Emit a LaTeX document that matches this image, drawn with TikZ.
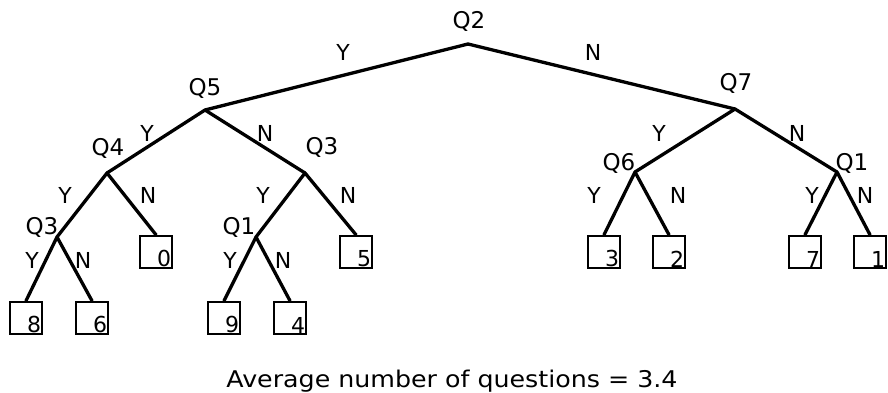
\documentclass[tikz,border=0pt]{standalone}
\usepackage{fontspec}
\setmainfont{DejaVu Sans}
\newfontfamily\capfont[FakeStretch=1.1]{DejaVu Sans}

\begin{document}
\begin{tikzpicture}[
  x=1pt, y=-1pt,
  edge/.style={line width=3.3pt, line cap=round, line join=round},
  leaf/.style={draw, line width=2.4pt, minimum size=32pt, inner sep=0pt,
    label={[anchor=south east, inner sep=2pt, font=\fontsize{22}{24}\selectfont]south east:#1}},
  qlab/.style={inner sep=0pt, font=\fontsize{23}{25}\selectfont},
  yn/.style={inner sep=0pt, font=\fontsize{22}{24}\selectfont}
]
\useasboundingbox (0,0) rectangle (888,392);

% branching points
\coordinate (q2) at (468,44);
\coordinate (q5) at (205,110);
\coordinate (q7) at (735,109);
\coordinate (q4) at (107,173);
\coordinate (q3n) at (305,173);
\coordinate (q6) at (635,172);
\coordinate (q1n) at (837,172);
\coordinate (q3y) at (57,237);
\coordinate (q1y) at (256,237);

% answers
\node[leaf=8] (a8) at (26,318) {};
\node[leaf=6] (a6) at (92,318) {};
\node[leaf=0] (a0) at (156,252) {};
\node[leaf=9] (a9) at (224,318) {};
\node[leaf=4] (a4) at (290,318) {};
\node[leaf=5] (a5) at (356,252) {};
\node[leaf=3] (a3) at (604,252) {};
\node[leaf=2] (a2) at (669,252) {};
\node[leaf=7] (a7) at (805,252) {};
\node[leaf=1] (a1) at (870,252) {};

% branches
\draw[edge] (q5) -- (q2) -- (q7);
\draw[edge] (q4) -- (q5) -- (q3n);
\draw[edge] (q3y) -- (q4) -- (a0.north);
\draw[edge] (a8.north) -- (q3y) -- (a6.north);
\draw[edge] (q1y) -- (q3n) -- (a5.north);
\draw[edge] (a9.north) -- (q1y) -- (a4.north);
\draw[edge] (q6) -- (q7) -- (q1n);
\draw[edge] (a3.north) -- (q6) -- (a2.north);
\draw[edge] (a7.north) -- (q1n) -- (a1.north);

% questions
\node[qlab] (t2) at (469,21) {Q2};
\node[qlab] (t5) at (205,88) {Q5};
\node[qlab] (t7) at (736,83) {Q7};
\node[qlab] (t4) at (108,148) {Q4};
\node[qlab] (t3n) at (322,147) {Q3};
\node[qlab] (t3y) at (42,227) {Q3};
\node[qlab] (t1y) at (239,227) {Q1};
\node[qlab] (t6) at (619,163) {Q6};
\node[qlab] (t1n) at (852,163) {Q1};

% yes / no
\node[yn] (y25) at (343,52) {Y};
\node[yn] (n27) at (593,52) {N};
\node[yn] (y54) at (147,133) {Y};
\node[yn] (n53) at (265,133) {N};
\node[yn] (y43) at (65,195) {Y};
\node[yn] (n40) at (148,195) {N};
\node[yn] (y38) at (32,260) {Y};
\node[yn] (n36) at (83,260) {N};
\node[yn] (y31) at (263,195) {Y};
\node[yn] (n35) at (348,195) {N};
\node[yn] (y19) at (230,260) {Y};
\node[yn] (n14) at (283,260) {N};
\node[yn] (y76) at (659,133) {Y};
\node[yn] (n71) at (797,133) {N};
\node[yn] (y63) at (594,195) {Y};
\node[yn] (n62) at (678,195) {N};
\node[yn] (y17) at (812,195) {Y};
\node[yn] (n11) at (865,195) {N};

\node[anchor=base, inner sep=0pt, font=\capfont\fontsize{23}{26}\selectfont] (avg) at (452,387) {Average number of questions = 3.4};
\end{tikzpicture}
\end{document}
